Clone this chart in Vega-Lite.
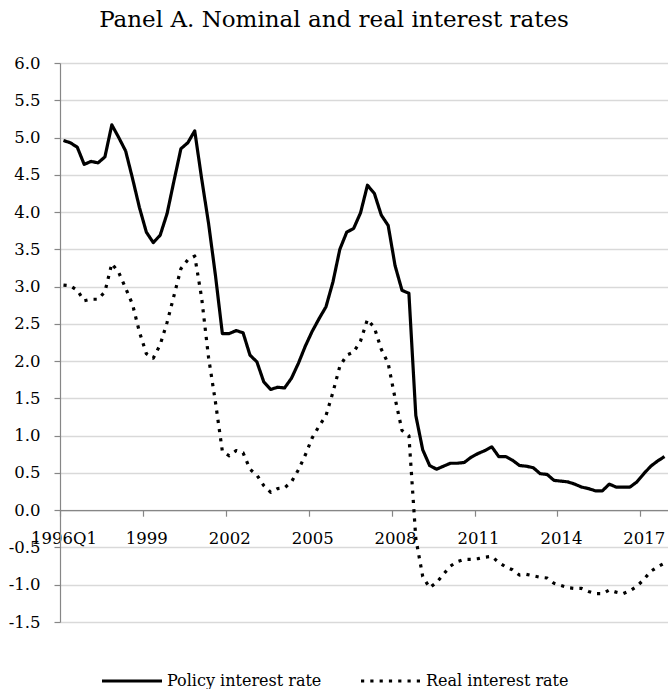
{
  "$schema": "https://vega.github.io/schema/vega-lite/v6.json",
  "width": 608,
  "height": 559,
  "autosize": {"type": "none"},
  "padding": {"left": 60, "top": 63, "right": 0, "bottom": 67},
  "background": "white",
  "title": {
    "text": "Panel A. Nominal and real interest rates",
    "font": "DejaVu Serif",
    "fontSize": 23,
    "fontWeight": "normal",
    "color": "black",
    "anchor": "middle",
    "dx": -30,
    "offset": 23
  },
  "data": {
    "values": [
      {"quarter": "1996Q1", "Policy interest rate": 4.96, "Real interest rate": 3.02},
      {"quarter": "1996Q2", "Policy interest rate": 4.93, "Real interest rate": 3.01},
      {"quarter": "1996Q3", "Policy interest rate": 4.87, "Real interest rate": 2.95},
      {"quarter": "1996Q4", "Policy interest rate": 4.64, "Real interest rate": 2.81},
      {"quarter": "1997Q1", "Policy interest rate": 4.68, "Real interest rate": 2.83},
      {"quarter": "1997Q2", "Policy interest rate": 4.66, "Real interest rate": 2.83},
      {"quarter": "1997Q3", "Policy interest rate": 4.74, "Real interest rate": 2.93},
      {"quarter": "1997Q4", "Policy interest rate": 5.17, "Real interest rate": 3.31},
      {"quarter": "1998Q1", "Policy interest rate": 5.00, "Real interest rate": 3.19},
      {"quarter": "1998Q2", "Policy interest rate": 4.82, "Real interest rate": 2.98},
      {"quarter": "1998Q3", "Policy interest rate": 4.45, "Real interest rate": 2.76},
      {"quarter": "1998Q4", "Policy interest rate": 4.06, "Real interest rate": 2.39},
      {"quarter": "1999Q1", "Policy interest rate": 3.73, "Real interest rate": 2.10},
      {"quarter": "1999Q2", "Policy interest rate": 3.59, "Real interest rate": 2.04},
      {"quarter": "1999Q3", "Policy interest rate": 3.69, "Real interest rate": 2.22},
      {"quarter": "1999Q4", "Policy interest rate": 3.98, "Real interest rate": 2.52},
      {"quarter": "2000Q1", "Policy interest rate": 4.42, "Real interest rate": 2.88},
      {"quarter": "2000Q2", "Policy interest rate": 4.85, "Real interest rate": 3.24},
      {"quarter": "2000Q3", "Policy interest rate": 4.93, "Real interest rate": 3.36},
      {"quarter": "2000Q4", "Policy interest rate": 5.09, "Real interest rate": 3.41},
      {"quarter": "2001Q1", "Policy interest rate": 4.45, "Real interest rate": 2.85},
      {"quarter": "2001Q2", "Policy interest rate": 3.85, "Real interest rate": 2.05},
      {"quarter": "2001Q3", "Policy interest rate": 3.15, "Real interest rate": 1.45},
      {"quarter": "2001Q4", "Policy interest rate": 2.37, "Real interest rate": 0.79},
      {"quarter": "2002Q1", "Policy interest rate": 2.37, "Real interest rate": 0.73},
      {"quarter": "2002Q2", "Policy interest rate": 2.41, "Real interest rate": 0.80},
      {"quarter": "2002Q3", "Policy interest rate": 2.38, "Real interest rate": 0.77},
      {"quarter": "2002Q4", "Policy interest rate": 2.08, "Real interest rate": 0.55},
      {"quarter": "2003Q1", "Policy interest rate": 1.99, "Real interest rate": 0.47},
      {"quarter": "2003Q2", "Policy interest rate": 1.72, "Real interest rate": 0.33},
      {"quarter": "2003Q3", "Policy interest rate": 1.62, "Real interest rate": 0.24},
      {"quarter": "2003Q4", "Policy interest rate": 1.65, "Real interest rate": 0.29},
      {"quarter": "2004Q1", "Policy interest rate": 1.64, "Real interest rate": 0.30},
      {"quarter": "2004Q2", "Policy interest rate": 1.77, "Real interest rate": 0.38},
      {"quarter": "2004Q3", "Policy interest rate": 1.97, "Real interest rate": 0.54},
      {"quarter": "2004Q4", "Policy interest rate": 2.20, "Real interest rate": 0.74},
      {"quarter": "2005Q1", "Policy interest rate": 2.40, "Real interest rate": 0.97},
      {"quarter": "2005Q2", "Policy interest rate": 2.57, "Real interest rate": 1.13},
      {"quarter": "2005Q3", "Policy interest rate": 2.73, "Real interest rate": 1.27},
      {"quarter": "2005Q4", "Policy interest rate": 3.06, "Real interest rate": 1.58},
      {"quarter": "2006Q1", "Policy interest rate": 3.50, "Real interest rate": 1.93},
      {"quarter": "2006Q2", "Policy interest rate": 3.73, "Real interest rate": 2.08},
      {"quarter": "2006Q3", "Policy interest rate": 3.78, "Real interest rate": 2.12},
      {"quarter": "2006Q4", "Policy interest rate": 3.99, "Real interest rate": 2.27},
      {"quarter": "2007Q1", "Policy interest rate": 4.36, "Real interest rate": 2.56},
      {"quarter": "2007Q2", "Policy interest rate": 4.25, "Real interest rate": 2.45},
      {"quarter": "2007Q3", "Policy interest rate": 3.96, "Real interest rate": 2.16},
      {"quarter": "2007Q4", "Policy interest rate": 3.82, "Real interest rate": 1.97},
      {"quarter": "2008Q1", "Policy interest rate": 3.28, "Real interest rate": 1.50},
      {"quarter": "2008Q2", "Policy interest rate": 2.95, "Real interest rate": 1.07},
      {"quarter": "2008Q3", "Policy interest rate": 2.91, "Real interest rate": 1.00},
      {"quarter": "2008Q4", "Policy interest rate": 1.27, "Real interest rate": -0.38},
      {"quarter": "2009Q1", "Policy interest rate": 0.81, "Real interest rate": -0.89},
      {"quarter": "2009Q2", "Policy interest rate": 0.60, "Real interest rate": -1.04},
      {"quarter": "2009Q3", "Policy interest rate": 0.55, "Real interest rate": -0.97},
      {"quarter": "2009Q4", "Policy interest rate": 0.59, "Real interest rate": -0.86},
      {"quarter": "2010Q1", "Policy interest rate": 0.63, "Real interest rate": -0.75},
      {"quarter": "2010Q2", "Policy interest rate": 0.63, "Real interest rate": -0.69},
      {"quarter": "2010Q3", "Policy interest rate": 0.64, "Real interest rate": -0.66},
      {"quarter": "2010Q4", "Policy interest rate": 0.71, "Real interest rate": -0.66},
      {"quarter": "2011Q1", "Policy interest rate": 0.76, "Real interest rate": -0.65},
      {"quarter": "2011Q2", "Policy interest rate": 0.80, "Real interest rate": -0.63},
      {"quarter": "2011Q3", "Policy interest rate": 0.85, "Real interest rate": -0.62},
      {"quarter": "2011Q4", "Policy interest rate": 0.72, "Real interest rate": -0.70},
      {"quarter": "2012Q1", "Policy interest rate": 0.72, "Real interest rate": -0.76},
      {"quarter": "2012Q2", "Policy interest rate": 0.67, "Real interest rate": -0.80},
      {"quarter": "2012Q3", "Policy interest rate": 0.60, "Real interest rate": -0.87},
      {"quarter": "2012Q4", "Policy interest rate": 0.59, "Real interest rate": -0.86},
      {"quarter": "2013Q1", "Policy interest rate": 0.57, "Real interest rate": -0.88},
      {"quarter": "2013Q2", "Policy interest rate": 0.49, "Real interest rate": -0.90},
      {"quarter": "2013Q3", "Policy interest rate": 0.48, "Real interest rate": -0.91},
      {"quarter": "2013Q4", "Policy interest rate": 0.40, "Real interest rate": -0.98},
      {"quarter": "2014Q1", "Policy interest rate": 0.39, "Real interest rate": -1.01},
      {"quarter": "2014Q2", "Policy interest rate": 0.38, "Real interest rate": -1.04},
      {"quarter": "2014Q3", "Policy interest rate": 0.35, "Real interest rate": -1.05},
      {"quarter": "2014Q4", "Policy interest rate": 0.31, "Real interest rate": -1.05},
      {"quarter": "2015Q1", "Policy interest rate": 0.29, "Real interest rate": -1.09},
      {"quarter": "2015Q2", "Policy interest rate": 0.26, "Real interest rate": -1.12},
      {"quarter": "2015Q3", "Policy interest rate": 0.26, "Real interest rate": -1.12},
      {"quarter": "2015Q4", "Policy interest rate": 0.35, "Real interest rate": -1.07},
      {"quarter": "2016Q1", "Policy interest rate": 0.31, "Real interest rate": -1.10},
      {"quarter": "2016Q2", "Policy interest rate": 0.31, "Real interest rate": -1.12},
      {"quarter": "2016Q3", "Policy interest rate": 0.31, "Real interest rate": -1.08},
      {"quarter": "2016Q4", "Policy interest rate": 0.38, "Real interest rate": -1.02},
      {"quarter": "2017Q1", "Policy interest rate": 0.49, "Real interest rate": -0.93},
      {"quarter": "2017Q2", "Policy interest rate": 0.59, "Real interest rate": -0.82},
      {"quarter": "2017Q3", "Policy interest rate": 0.66, "Real interest rate": -0.76},
      {"quarter": "2017Q4", "Policy interest rate": 0.72, "Real interest rate": -0.71}
    ]
  },
  "transform": [
    {"fold": ["Policy interest rate", "Real interest rate"], "as": ["series", "value"]}
  ],
  "mark": {"type": "line", "strokeWidth": 3.2, "strokeCap": "butt", "strokeJoin": "round"},
  "encoding": {
    "x": {
      "field": "quarter",
      "type": "ordinal",
      "scale": {"type": "point", "padding": 0.5},
      "axis": {
        "values": ["1996Q1", "1999Q1", "2002Q1", "2005Q1", "2008Q1", "2011Q1", "2014Q1", "2017Q1"],
        "labelExpr": "datum.value == '1996Q1' ? '1996Q1' : slice(datum.value, 0, 4)",
        "title": null,
        "offset": -111.8,
        "grid": false,
        "domainColor": "#868686",
        "domainWidth": 1.2,
        "tickColor": "#868686",
        "tickWidth": 1.2,
        "tickSize": 6,
        "tickOffset": -3.45,
        "labelOffset": 3.45,
        "labelAngle": 0,
        "labelOverlap": false,
        "labelFont": "DejaVu Serif",
        "labelFontSize": 16.5,
        "labelColor": "black",
        "labelPadding": 14
      }
    },
    "y": {
      "field": "value",
      "type": "quantitative",
      "scale": {"domain": [-1.5, 6], "nice": false, "zero": false},
      "axis": {
        "values": [-1.5, -1, -0.5, 0, 0.5, 1, 1.5, 2, 2.5, 3, 3.5, 4, 4.5, 5, 5.5, 6],
        "format": ".1f",
        "labelExpr": "replace(datum.label, '\u2212', '-')",
        "title": null,
        "domainColor": "#868686",
        "domainWidth": 1.2,
        "tickColor": "#868686",
        "tickWidth": 1.2,
        "tickSize": 6,
        "labelFont": "DejaVu Serif",
        "labelFontSize": 16.5,
        "labelColor": "black",
        "labelPadding": 14,
        "gridColor": "#d9d9d9",
        "gridWidth": 1.5
      }
    },
    "color": {
      "field": "series",
      "type": "nominal",
      "scale": {"range": ["black", "black"]},
      "legend": {
        "title": null,
        "orient": "none",
        "legendX": 40,
        "legendY": 586,
        "direction": "horizontal",
        "symbolType": "stroke",
        "symbolSize": 3600,
        "symbolStrokeWidth": 3.2,
        "labelFont": "DejaVu Serif",
        "labelFontSize": 16,
        "labelColor": "black",
        "labelOffset": 3,
        "columnPadding": 32,
        "padding": 0
      }
    },
    "strokeDash": {
      "field": "series",
      "type": "nominal",
      "scale": {"range": [[1, 0], [3.2, 6.1]]},
      "legend": {
        "title": null,
        "orient": "none",
        "legendX": 40,
        "legendY": 586,
        "direction": "horizontal",
        "symbolType": "stroke",
        "symbolSize": 3600,
        "symbolStrokeWidth": 3.2,
        "labelFont": "DejaVu Serif",
        "labelFontSize": 16,
        "labelColor": "black",
        "labelOffset": 3,
        "columnPadding": 32,
        "padding": 0
      }
    }
  },
  "config": {"view": {"stroke": null}}
}
